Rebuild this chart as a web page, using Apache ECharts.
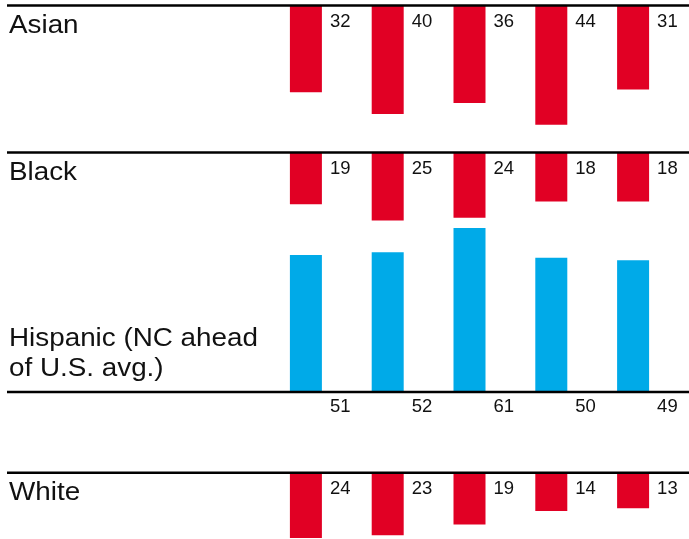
<!DOCTYPE html>
<html>
<head>
<meta charset="utf-8">
<script src="https://cdn.jsdelivr.net/npm/echarts@6/dist/echarts.min.js"></script>
<style>
  html, body { margin: 0; padding: 0; background: #fff; }
  #chart { width: 689px; height: 539px; }
</style>
</head>
<body>
<div id="chart"></div>
<script>
// Five assessments per group; gap between NC and the U.S. average, in points.
const tests = ['1', '2', '3', '4', '5'];
const groupNames = ['Asian', 'Black', 'Hispanic (NC ahead\nof U.S. avg.)', 'White'];
const asianGap = [32, 40, 36, 44, 31];
const blackGap = [19, 25, 24, 18, 18];
const hispanicGap = [51, 52, 61, 50, 49];
const whiteGap = [24, 23, 19, 14, 13];

const RED = '#e10024';
const BLUE = '#00aae8';
const FONT = '"Liberation Sans", Arial, Helvetica, sans-serif';
const PX_PER_POINT = 2.697;

// Red panels hang below their rule, the blue panel rises above it.
// Each panel's axis max is chosen so its grid stays inside the canvas.
const panels = [
  { name: groupNames[0], values: asianGap,    zeroY: 6,     down: true,  max: 50 },
  { name: groupNames[1], values: blackGap,    zeroY: 153,   down: true,  max: 50 },
  { name: groupNames[2], values: hispanicGap, zeroY: 392.5, down: false, max: 70 },
  { name: groupNames[3], values: whiteGap,    zeroY: 473.2, down: true,  max: 24 }
];

const grids = [], xAxes = [], yAxes = [], series = [];
panels.forEach((p, i) => {
  const h = p.max * PX_PER_POINT;
  grids.push({ left: 265, width: 409, top: p.down ? p.zeroY : p.zeroY - h, height: h });
  xAxes.push({ type: 'category', gridIndex: i, data: tests, show: false });
  yAxes.push({ type: 'value', gridIndex: i, min: 0, max: p.max, inverse: p.down, show: false });
  series.push({
    type: 'bar',
    xAxisIndex: i,
    yAxisIndex: i,
    data: p.values,
    barWidth: 32,
    silent: true,
    itemStyle: { color: p.down ? RED : BLUE },
    label: {
      show: true,
      position: p.down ? ['100%', 0] : ['100%', '100%'],
      offset: p.down ? [8, 6] : [8, 5],
      align: 'left',
      verticalAlign: 'top',
      fontFamily: FONT,
      fontSize: 18.5,
      color: '#111'
    }
  });
});

const chart = echarts.init(document.getElementById('chart'), null, { renderer: 'canvas' });
chart.setOption({
  animation: false,
  backgroundColor: '#fff',
  grid: grids,
  xAxis: xAxes,
  yAxis: yAxes,
  series: series
});

// Full-width rules at each panel's zero line, plus the group names.
const graphics = [];
panels.forEach((p, i) => {
  const y0 = chart.convertToPixel({ gridIndex: i }, [0, 0])[1];
  graphics.push({
    type: 'line',
    silent: true,
    shape: { x1: 7, y1: y0 - 0.5, x2: 689, y2: y0 - 0.5 },
    style: { stroke: '#000', lineWidth: 2.6 },
    z: 10
  });
  const multi = p.name.indexOf('\n') >= 0;
  graphics.push({
    type: 'text',
    silent: true,
    x: 9,
    y: multi ? y0 - 38.5 : y0 + 20,
    scaleX: 1.07,
    style: {
      text: p.name,
      fontFamily: FONT,
      fontSize: 26,
      lineHeight: 30,
      fill: '#111',
      textAlign: 'left',
      textVerticalAlign: 'middle'
    }
  });
});
chart.setOption({ graphic: graphics });
</script>
</body>
</html>
